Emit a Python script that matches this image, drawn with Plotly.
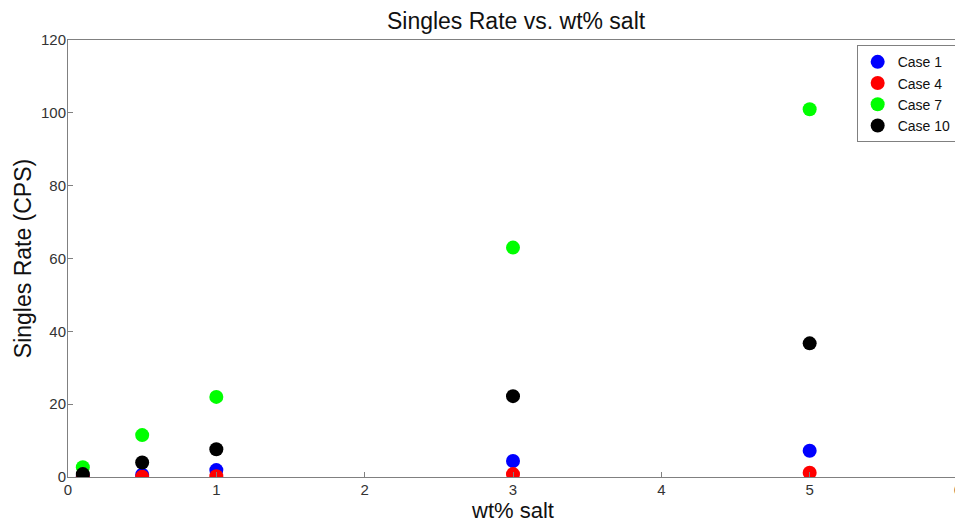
import plotly.graph_objects as go

wt_salt = [0.1, 0.5, 1, 3, 5]
case1 = [0.3, 0.6, 1.9, 4.4, 7.2]
case4 = [0.05, 0.1, 0.2, 0.8, 1.2]
case7 = [2.7, 11.5, 22.0, 63.0, 101.0]
case10 = [0.8, 4.0, 7.6, 22.2, 36.7]

series = [("Case 1", case1, "#0000ff"), ("Case 4", case4, "#ff0000"),
          ("Case 7", case7, "#00ff00"), ("Case 10", case10, "#000000")]

fig = go.Figure()
for name, vals, col in series:
    fig.add_trace(go.Scatter(x=wt_salt, y=vals, mode="markers", name=name,
                             marker=dict(color=col, size=14, line=dict(width=0))))

axis_common = dict(showline=True, linecolor="#808080", linewidth=1, mirror=True,
                   ticks="inside", ticklen=5, tickcolor="#808080", showgrid=False,
                   zeroline=False, automargin=False,
                   tickfont=dict(family="Arial", size=15, color="#333"))

# page body has an 8px margin, so the figure is sized to fit the window
fig.update_layout(
    width=955, height=515,
    margin=dict(l=60, r=5, t=32, b=46),
    paper_bgcolor="white", plot_bgcolor="white",
    font=dict(family="Arial", color="#111"),
    title=dict(text="Singles Rate vs. wt% salt", x=0.532, xanchor="center",
               y=0.9755, yanchor="middle", font=dict(size=23, family="Arial")),
    xaxis=dict(range=[0, 6], dtick=1, ticklabelstandoff=-1,
               title=dict(text="wt% salt", font=dict(size=22), standoff=4), **axis_common),
    yaxis=dict(range=[0, 120], dtick=20, ticklabelstandoff=-2,
               title=dict(text="Singles Rate (CPS)", font=dict(size=23), standoff=2), **axis_common),
    legend=dict(x=0.9985, y=0.988, xanchor="right", yanchor="top",
                bordercolor="#808080", borderwidth=1, bgcolor="white",
                font=dict(size=14, family="Arial"), itemwidth=30, tracegroupgap=0),
    showlegend=True,
)

fig.write_html("out.html")
